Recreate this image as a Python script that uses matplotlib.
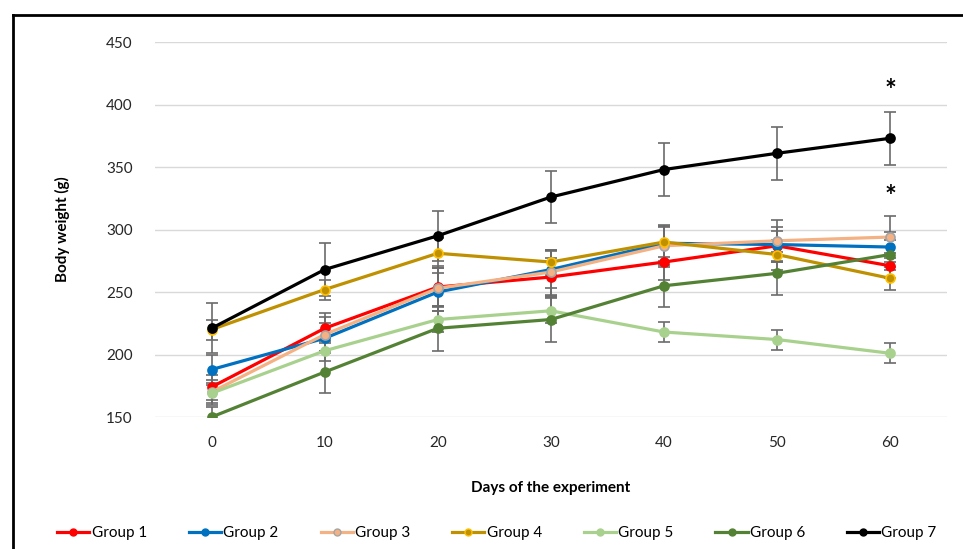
import matplotlib
matplotlib.use("Agg")
import matplotlib.pyplot as plt
from matplotlib.lines import Line2D

plt.rcParams['font.family'] = ['Lato', 'DejaVu Sans']

days = [0, 10, 20, 30, 40, 50, 60]
groups = ["Group 1", "Group 2", "Group 3", "Group 4", "Group 5", "Group 6", "Group 7"]
g1 = [174, 221, 254, 262, 274, 287, 271]
g2 = [188, 213, 250, 268, 289, 288, 286]
g3 = [170, 216, 253, 266, 287, 291, 294]
g4 = [220, 252, 281, 274, 290, 280, 261]
g5 = [169, 203, 228, 235, 218, 212, 201]
g6 = [150, 186, 221, 228, 255, 265, 280]
g7 = [221, 268, 295, 326, 348, 361, 373]
e1 = [10, 12, 15, 15, 14, 12, 10]
e2 = [12, 12, 15, 15, 14, 14, 12]
e3 = [10, 14, 18, 18, 17, 17, 17]
e4 = [8, 8, 12, 10, 12, 12, 9]
e5 = [8, 8, 10, 10, 8, 8, 8]
e6 = [8, 17, 18, 18, 17, 17, 12]
e7 = [20, 21, 20, 21, 21, 21, 21]
yticks = [150, 200, 250, 300, 350, 400, 450]
star_pos = [411, 326]

series = [g1, g2, g3, g4, g5, g6, g7]
errs = [e1, e2, e3, e4, e5, e6, e7]
colors = ["#ff0000", "#0070c0", "#f4b183", "#bf9000", "#a9d18e", "#548235", "#000000"]
medges = ["#ff0000", "#0070c0", "#a5a5a5", "#ffc000", "#a9d18e", "#548235", "#000000"]

fig = plt.figure(figsize=(9.63, 5.49), dpi=100)
ax = fig.add_axes([0.161, 0.2404, 0.822, 0.683])

for s, e, c, me, name in zip(series, errs, colors, medges, groups):
    ax.errorbar(days, s, yerr=e, color=c, lw=2.3, marker='o', markersize=6.5,
                markerfacecolor=c, markeredgecolor=me, markeredgewidth=1.2,
                ecolor="#6b6b6b", elinewidth=1.2, capsize=4, capthick=1.2,
                label=name, clip_on=True)

for yv in star_pos:
    ax.text(60, yv, "*", ha='center', va='center', fontsize=20, fontweight='bold')

ax.set_xlim(-5, 65)
ax.set_ylim(150, 450)
ax.set_xticks(days)
ax.set_yticks(yticks)
ax.grid(axis='y', color='#d9d9d9', lw=1)
ax.set_axisbelow(True)
for sp in ax.spines.values():
    sp.set_visible(False)
ax.tick_params(length=0, labelsize=11, colors='#262626', pad=16)
ax.tick_params(axis='x', pad=14)
ax.set_xlabel("Days of the experiment", fontsize=11, fontweight='bold', labelpad=22)
ax.set_ylabel("Body weight (g)", fontsize=11, fontweight='bold', labelpad=26)

handles = [Line2D([], [], color=c, lw=2.3, marker='o', markersize=5,
                  markerfacecolor=c, markeredgecolor=me) for c, me in zip(colors, medges)]
fig.legend(handles, groups, loc='center', bbox_to_anchor=(497/963, 1-533/549), ncol=7,
           frameon=False, fontsize=11, handlelength=2.1, handletextpad=0.15,
           columnspacing=2.75)

# frame (partially cropped in reference)
fig.add_artist(Line2D([13/963, 13/963], [0, 1-15/549], color='black', lw=2, transform=fig.transFigure))
fig.add_artist(Line2D([13/963, 1], [1-15/549, 1-15/549], color='black', lw=2, transform=fig.transFigure))

fig.savefig("out.png", dpi=100)
